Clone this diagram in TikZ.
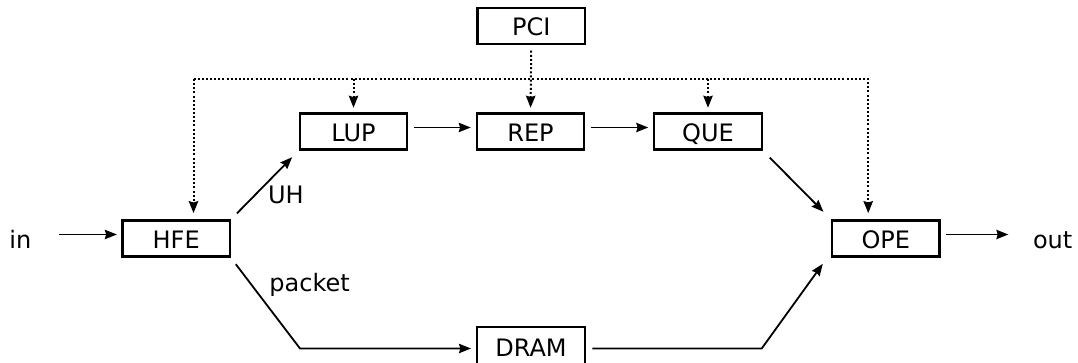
\documentclass[tikz,border=0pt]{standalone}
\usepackage{fontspec}
\setmainfont{DejaVu Sans}
\usetikzlibrary{arrows.meta}
\tikzset{
  every node/.style={font=\fontsize{18pt}{22pt}\selectfont, inner sep=0pt, outer sep=0pt, text height=14.7pt, text depth=0pt},
  blk/.style={draw, line width=1.7pt, minimum width=80.6pt, minimum height=27pt},
  tip/.style={-{Stealth[length=9pt,width=7pt,inset=1pt]}},
  arr/.style={line width=1.35pt, tip},
  hor/.style={arr, shorten <=5pt, shorten >=4.5pt},
  dot/.style={line width=1.5pt, dash pattern=on 1.5pt off 1.6pt},
  dotarr/.style={dot, tip},
}
\begin{document}
\begin{tikzpicture}[x=0.75pt,y=-0.75pt]
\useasboundingbox (0,0) rectangle (1078,363);
% nodes
\node[blk] (pci) at (531.3,26) {PCI};
\node[blk] (lup) at (353.5,131.5) {LUP};
\node[blk] (rep) at (530.5,131.5) {REP};
\node[blk] (que) at (708,131.5) {QUE};
\node[blk] (hfe) at (176.2,238.5) {HFE};
\node[blk] (ope) at (885.8,238.5) {OPE};
\node[blk, minimum height=30pt] (dram) at (531,347) {DRAM};
\node (in) at (20.4,238.5) {in};
\node (out) at (1052.7,238.5) {out};
\node[anchor=west] (uh) at (268,193.5) {UH};
\node[anchor=west] (pk) at (269.4,281.7) {packet};
% helper coordinates
\coordinate (bl) at (193.5,79);
\coordinate (br) at (868.2,79);
\coordinate (c1) at (300,348.5);
\coordinate (c2) at (761.7,348.5);
% solid connectors
\draw[arr, shorten <=21pt, shorten >=4.2pt] ([yshift=3pt]in.east) -- ([yshift=3pt]hfe.west);
\draw[hor] ([yshift=3pt]lup.east) -- ([yshift=3pt]rep.west);
\draw[hor] ([yshift=3pt]rep.east) -- ([yshift=3pt]que.west);
\draw[arr, shorten <=5pt, shorten >=18.5pt] ([yshift=3pt]ope.east) -- ([yshift=3pt]out.west);
\draw[arr, shorten <=7.5pt, shorten >=8.1pt] (hfe.north east) -- (lup.south west);
\draw[arr, shorten <=8.6pt, shorten >=9.2pt] (que.south east) -- (ope.north west);
\draw[arr, shorten <=7.3pt, shorten >=4.7pt] (hfe.south east) -- (c1) -- (dram.west |- c1);
\draw[arr, shorten <=5.8pt, shorten >=6.8pt] (dram.east |- c2) -- (c2) -- ([xshift=-3pt]ope.south west);
% dotted control connectors
\draw[dotarr, shorten <=5pt, shorten >=4.3pt] (pci.south) -- (rep.north);
\draw[dotarr, shorten >=5.5pt] (bl) -- (br) -- (br |- ope.north);
\draw[dotarr, shorten >=5.5pt] (bl) -- (bl |- hfe.north);
\draw[dotarr, shorten >=4.3pt] (lup.north |- bl) -- (lup.north);
\draw[dotarr, shorten >=4.3pt] (que.north |- bl) -- (que.north);
\end{tikzpicture}
\end{document}
